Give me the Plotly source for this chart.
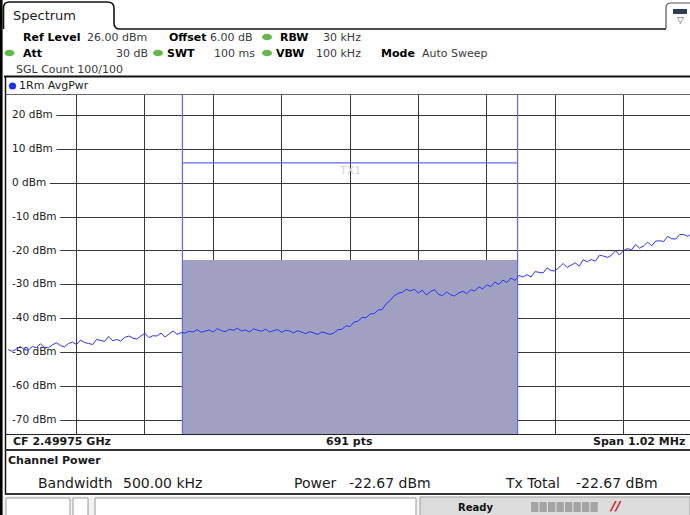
import plotly.graph_objects as go

# ---------------- data ----------------
trace_dbm = [
    -49.1, -49.6, -49.0, -48.2, -49.1, -49.3, -48.2, -48.5, -47.4, -48.4,
    -48.6, -47.7, -47.1, -47.9, -48.3, -47.3, -46.9, -47.6, -46.3, -47.0,
    -47.3, -47.6, -46.1, -46.4, -46.7, -45.2, -46.5, -46.1, -46.6, -45.5,
    -45.1, -45.7, -46.0, -45.1, -44.3, -45.6, -45.0, -45.1, -44.2, -45.4,
    -44.4, -43.6, -44.6, -44.1,
    -44.2, -43.7, -43.9, -43.2, -44.0, -43.6, -43.3, -43.9, -42.9, -43.5,
    -43.8, -43.1, -43.4, -42.8, -43.6, -43.3, -43.9, -43.0, -43.4, -43.7,
    -43.1, -43.9, -43.5, -43.2, -44.0, -43.4, -43.6, -44.2, -43.5, -43.9,
    -44.4, -43.8, -44.2, -44.6, -43.9, -44.3, -44.6,
    -44.2, -43.2, -43.1, -42.1, -42.3, -41.0, -40.7, -39.6, -39.7, -38.6,
    -38.5, -37.4, -37.3, -35.6, -34.6, -33.2, -32.5, -32.2, -31.3,
    -31.8, -31.3, -32.4, -31.6, -33.0, -32.0, -31.4, -32.8, -33.2, -32.1,
    -32.9, -33.3, -32.4, -31.9, -32.6, -31.5,
    -31.8, -30.6, -31.2, -30.0, -30.5, -29.2, -29.9, -28.6, -29.3, -28.0,
    -28.7,
    -27.2, -27.7, -27.0, -27.7, -26.1, -26.3, -26.5, -25.0, -25.8, -25.9,
    -24.7, -23.7, -24.9, -24.2, -23.5, -24.5, -22.6, -23.2, -22.5, -23.0,
    -21.3, -21.5, -21.9, -21.3, -19.9, -21.2, -19.9, -19.3, -19.7, -18.1,
    -19.2, -18.5, -17.4, -18.5, -17.1, -17.0, -17.2, -15.7, -16.4, -16.5,
    -15.1, -15.2, -15.7, -14.7,
]
freq_start_khz = -510          # offset from centre frequency
freq_step_khz = 6
freq_khz = [freq_start_khz + i * freq_step_khz for i in range(len(trace_dbm))]

y_tick_values = [20, 10, 0, -10, -20, -30, -40, -50, -60, -70]
y_tick_labels = [f"{v} dBm" for v in y_tick_values]

ref_level_dbm = 26.0
display_range_db = 100.0
grid_div_khz = 102
channel_bw_khz = 500.0
channel_power_dbm = -22.67
tx_total_dbm = -22.67
tx1_limit_dbm = 6.0
cf_text = "2.49975 GHz"
span_text = "1.02 MHz"
n_pts = 691

# ---------------- geometry helpers ----------------
W, H = 690, 515
L, R, T, B = 8, 0, 95, 81
PW, PH = W - L - R, H - T - B
FONT = "DejaVu Sans"


def X(p):
    return (p - L) / PW


def Y(p):
    return (H - B - p) / PH


y_min = ref_level_dbm - display_range_db
x_range = [-510.2, 507.2]

shapes = []
annotations = []


def rect(x0, y0, x1, y1, fill, lc=None, lw=0, layer="above"):
    shapes.append(dict(type="rect", xref="paper", yref="paper",
                       x0=X(x0), x1=X(x1), y0=Y(y1), y1=Y(y0),
                       fillcolor=fill, line=dict(color=lc or fill, width=lw),
                       layer=layer))


def line(x0, y0, x1, y1, color, w):
    shapes.append(dict(type="line", xref="paper", yref="paper",
                       x0=X(x0), x1=X(x1), y0=Y(y0), y1=Y(y1),
                       line=dict(color=color, width=w)))


def ellipse(cx, cy, rx, ry, fill):
    shapes.append(dict(type="circle", xref="paper", yref="paper",
                       x0=X(cx - rx), x1=X(cx + rx), y0=Y(cy + ry), y1=Y(cy - ry),
                       fillcolor=fill, line=dict(color=fill, width=0)))


def path(cmds, color, w, fill=None):
    parts = []
    for c in cmds:
        op = c[0]
        pts = c[1:]
        s = op + " " + " ".join(f"{X(pts[i]):.5f},{Y(pts[i+1]):.5f}" for i in range(0, len(pts), 2))
        parts.append(s)
    shapes.append(dict(type="path", xref="paper", yref="paper", path=" ".join(parts),
                       line=dict(color=color, width=w),
                       fillcolor=fill if fill else "rgba(0,0,0,0)"))


def txt(x, y, s, size=11, bold=False, color="#000000", anchor="left", italic=False):
    if bold:
        s = f"<b>{s}</b>"
    if italic:
        s = f"<i>{s}</i>"
    annotations.append(dict(xref="paper", yref="paper", x=X(x), y=Y(y), text=s,
                            showarrow=False, xanchor=anchor, yanchor="middle",
                            borderpad=0,
                            font=dict(family=FONT, size=size, color=color)))


# ---------------- frame / chrome ----------------
rect(0, 0, 2.6, 515, "#000000")
path([("M", 3.5, 29), ("L", 3.5, 8), ("Q", 3.5, 2, 9.5, 2), ("L", 107, 2),
      ("Q", 114, 2, 114, 8), ("L", 114, 23), ("Q", 114, 29, 120, 29), ("L", 666, 29)],
     "#111111", 1.6)
txt(12, 16, "Spectrum", size=13, color="#1a1a1a")
path([("M", 666, 29), ("L", 666, 8), ("Q", 666, 3, 671, 3), ("L", 690, 3)], "#555555", 1.2)
rect(673, 9, 687, 14, "#303a50")
txt(680, 20, "▽", size=9, color="#404a60", anchor="center")

# header rows
txt(22, 37, "Ref Level", bold=True)
txt(86, 37, "26.00 dBm", color="#3a3a3a")
txt(168, 37, "Offset", bold=True)
txt(254, 37, "6.00 dB", color="#3a3a3a", anchor="right")
ellipse(267, 37, 5, 3.2, "#62b84a")
txt(279, 37, "RBW", bold=True)
txt(362, 37, "30 kHz", color="#3a3a3a", anchor="right")

ellipse(9.5, 53, 5, 3.2, "#62b84a")
txt(22, 53, "Att", bold=True)
txt(149, 53, "30 dB", color="#3a3a3a", anchor="right")
ellipse(158, 53, 5, 3.2, "#62b84a")
txt(166, 53, "SWT", bold=True)
txt(256, 53, "100 ms", color="#3a3a3a", anchor="right")
ellipse(267, 53, 5, 3.2, "#62b84a")
txt(275, 53, "VBW", bold=True)
txt(362, 53, "100 kHz", color="#3a3a3a", anchor="right")
txt(380, 53, "Mode", bold=True)
txt(421, 53, "Auto Sweep", color="#3a3a3a")

txt(15, 69, "SGL Count 100/100", color="#3a3a3a")

line(4, 76.5, 690, 76.5, "#111111", 2)
ellipse(12.5, 86, 3.6, 3.6, "#1a30ff")
txt(18, 86, "1Rm AvgPwr", color="#1a1a1a")
line(5, 94.5, 690, 94.5, "#666666", 1)

line(5.5, 76, 5.5, 495, "#111111", 1.5)

# below the diagram
line(5, 434.5, 690, 434.5, "#222222", 1)
txt(12, 441.5, f"CF {cf_text}", bold=True, color="#1a1a1a")
txt(349, 441.5, f"{n_pts} pts", bold=True, color="#1a1a1a", anchor="center")
txt(686, 441.5, f"Span {span_text}", bold=True, color="#1a1a1a", anchor="right")
line(5, 450, 690, 450, "#333333", 2)

txt(7, 460.5, "Channel Power", bold=True, color="#1a1a1a")
txt(37, 482.5, "Bandwidth", size=14, color="#1a1a1a")
txt(122, 482.5, f"{channel_bw_khz:.2f} kHz", size=14, color="#1a1a1a")
txt(293, 482.5, "Power", size=14, color="#1a1a1a")
txt(348, 482.5, f"{channel_power_dbm:.2f} dBm", size=14, color="#1a1a1a")
txt(504, 482.5, "Tx Total", size=14, color="#1a1a1a")
txt(575, 482.5, f"{tx_total_dbm:.2f} dBm", size=14, color="#1a1a1a")
line(5, 494, 690, 494, "#333333", 2)

# status bar
rect(3, 496, 690, 515, "#f2f2f2")
rect(6, 498, 70, 516, "#ffffff", "#9a9a9a", 1)
rect(73, 498, 88, 516, "#ffffff", "#9a9a9a", 1)
rect(95, 498, 416, 516, "#ffffff", "#9a9a9a", 1)
rect(420, 497, 690, 516, "#dcdcdc", "#a0a0a0", 1)
txt(476, 507, "Ready", size=10, bold=True, color="#111111", anchor="center")
for k in range(8):
    rect(531 + k * 8.5, 502, 531 + k * 8.5 + 7.3, 512, "#a4a4a4")
txt(608, 506, "//", size=13, bold=True, italic=True, color="#cc1010")

# white backgrounds for the y labels (between grid and traces)
label_x = x_range[0] + 6
for v, lab in zip(y_tick_values, y_tick_labels):
    n_dig = sum(ch.isdigit() for ch in lab)
    wpx = 6.7 * n_dig + (3.8 if lab.startswith("-") else 0) + 29
    shapes.append(dict(type="rect", xref="x", yref="y", xsizemode="pixel", ysizemode="pixel",
                       xanchor=label_x, yanchor=v, x0=-8, x1=2 + wpx, y0=-6, y1=6,
                       fillcolor="#ffffff", line=dict(width=0), layer="between"))

# ---------------- traces ----------------
fig = go.Figure()

fig.add_trace(go.Scatter(
    x=[label_x] * len(y_tick_values), y=y_tick_values, text=y_tick_labels,
    mode="text", textposition="middle right",
    textfont=dict(family=FONT, size=10.5, color="#202020"),
    cliponaxis=False, hoverinfo="skip", showlegend=False))

fig.add_trace(go.Bar(
    x=[0], y=[channel_power_dbm - y_min], base=[y_min], width=[channel_bw_khz],
    marker=dict(color="#a0a0c0", line=dict(width=0)),
    hoverinfo="skip", showlegend=False))

half = channel_bw_khz / 2
fig.add_trace(go.Scatter(
    x=[-half, -half, None, half, half, None, -half, half],
    y=[ref_level_dbm, y_min, None, ref_level_dbm, y_min, None, tx1_limit_dbm, tx1_limit_dbm],
    mode="lines", line=dict(color="#6464ff", width=1.2),
    hoverinfo="skip", showlegend=False))

fig.add_trace(go.Scatter(
    x=freq_khz, y=trace_dbm, mode="lines",
    line=dict(color="#2f2fff", width=1),
    hoverinfo="skip", showlegend=False))

annotations.append(dict(xref="x", yref="y", x=0, y=tx1_limit_dbm, yshift=-8, text="TX1",
                        showarrow=False, font=dict(family=FONT, size=11, color="#d4d4d4")))

fig.update_layout(
    width=W, height=H,
    margin=dict(l=L, r=R, t=T, b=B, pad=0),
    paper_bgcolor="#ffffff", plot_bgcolor="#ffffff",
    showlegend=False, bargap=0,
    shapes=shapes, annotations=annotations,
    xaxis=dict(range=x_range, tick0=0, dtick=grid_div_khz, showgrid=True,
               gridcolor="#383838", gridwidth=1, zeroline=False, showticklabels=False,
               ticks="", showline=False, fixedrange=True),
    yaxis=dict(range=[y_min, ref_level_dbm], tick0=0, dtick=10, showgrid=True,
               gridcolor="#383838", gridwidth=1, zeroline=False, showticklabels=False,
               ticks="", showline=False, fixedrange=True),
)

fig.write_html("out.html", config={"displayModeBar": False, "staticPlot": True},
               post_script="document.body.style.margin='0';document.body.style.overflow='hidden';")
